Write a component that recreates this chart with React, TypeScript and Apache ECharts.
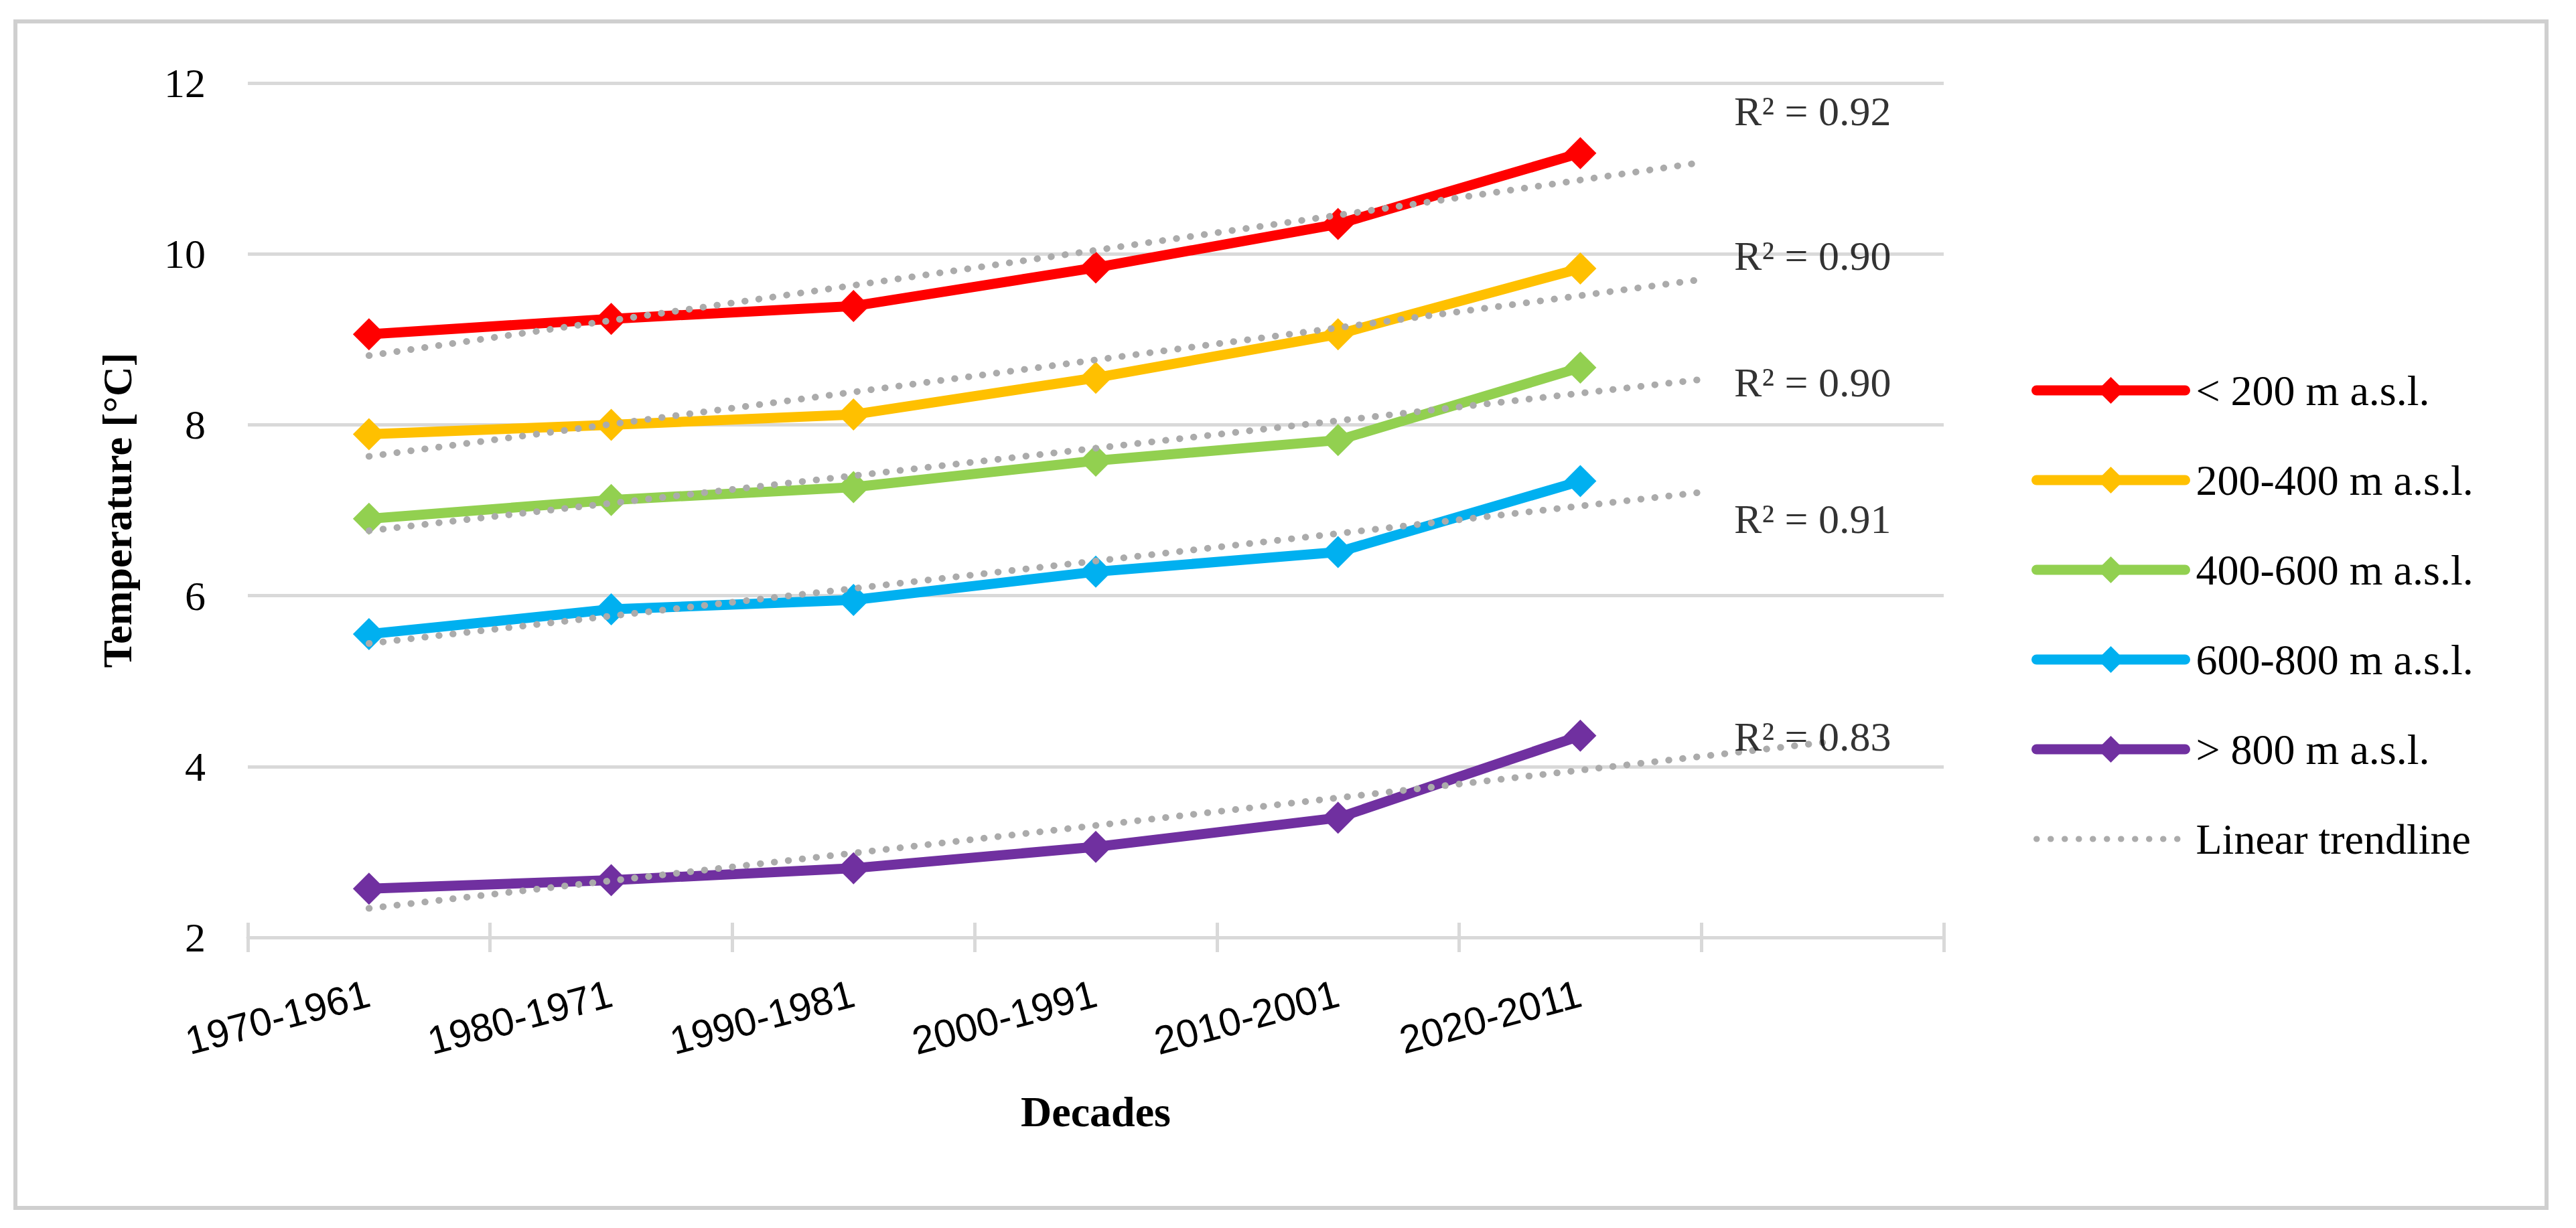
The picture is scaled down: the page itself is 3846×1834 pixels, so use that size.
import React, { useEffect, useRef } from "react";
import * as echarts from "echarts";

// ---------- data ----------
const categories = ["1970-1961", "1980-1971", "1990-1981", "2000-1991", "2010-2001", "2020-2011", ""];
const seriesNames = ["< 200 m a.s.l.", "200-400 m a.s.l.", "400-600 m a.s.l.", "600-800 m a.s.l.", "> 800 m a.s.l."];
const below200 = [9.06, 9.24, 9.39, 9.84, 10.35, 11.18];
const from200to400 = [7.89, 8.0, 8.12, 8.55, 9.06, 9.83];
const from400to600 = [6.9, 7.12, 7.27, 7.58, 7.82, 8.67];
const from600to800 = [5.55, 5.84, 5.95, 6.28, 6.51, 7.34];
const above800 = [2.57, 2.67, 2.81, 3.06, 3.4, 4.36];
const seriesValues = [below200, from200to400, from400to600, from600to800, above800];

// linear trendlines (start at first decade, end position / value)
const trendName = "Linear trendline";
const trendStartX = [1, 1, 1, 1, 1];
const trendStartValues = [8.81, 7.63, 6.76, 5.44, 2.34];
const trendEndX = [6.5, 6.5, 6.5, 6.5, 7];
const trendEndValues = [11.07, 9.7, 8.53, 7.21, 4.28];
const r2Texts = ["R\u00B2 = 0.92", "R\u00B2 = 0.90", "R\u00B2 = 0.90", "R\u00B2 = 0.91", "R\u00B2 = 0.83"];

const yTicks = { min: 2, max: 12, interval: 2 };

// ---------- layout / style (not data) ----------
const colors = ["#FF0000", "#FFC000", "#92D050", "#00B0F0", "#7030A0"];
const trendColor = "#ABABAB";
const gridColor = "#D9D9D9";
const r2LabelX = 6.635;
const r2LabelY = [11.67, 9.98, 8.5, 6.9, 4.35];
const SERIF = '"Liberation Serif", "Times New Roman", serif';
const SANS = '"Liberation Sans", Arial, sans-serif';

export default function App() {
  const ref = useRef<HTMLDivElement>(null);

  useEffect(() => {
    document.body.style.margin = "0";
    const chart = echarts.init(ref.current!, null, { renderer: "svg" });

    const trendLineStyle = { color: trendColor, width: 10, type: [0.5, 20.5], cap: "round" };

    const mainSeries = seriesNames.map((name, i) => ({
      name,
      type: "line",
      xAxisIndex: 0,
      yAxisIndex: 0,
      data: seriesValues[i],
      symbol: "diamond",
      symbolSize: 48,
      showSymbol: true,
      lineStyle: { color: colors[i], width: 15 },
      itemStyle: { color: colors[i] },
      z: 2,
    }));

    const trendSeries = seriesNames.map((_, i) => ({
      name: trendName,
      type: "line",
      xAxisIndex: 1,
      yAxisIndex: 0,
      data: [
        [trendStartX[i], trendStartValues[i]],
        [trendEndX[i], trendEndValues[i]],
      ],
      symbol: "none",
      lineStyle: trendLineStyle,
      itemStyle: { color: trendColor },
      z: 3,
    }));

    const r2Series = {
      name: "r2labels",
      type: "scatter",
      xAxisIndex: 1,
      yAxisIndex: 0,
      symbolSize: 0,
      data: r2Texts.map((t, i) => ({ name: t, value: [r2LabelX, r2LabelY[i]] })),
      label: {
        show: true,
        position: "right",
        distance: 0,
        formatter: (p: any) => p.name,
        fontFamily: SERIF,
        fontSize: 62,
        color: "#000",
      },
      silent: true,
      z: 4,
    };

    chart.setOption({
      animation: false,
      backgroundColor: "#ffffff",
      grid: { left: 370, right: 944, top: 124, bottom: 434, containLabel: false },
      legend: {
        orient: "vertical",
        left: 3033,
        top: 551,
        padding: 0,
        itemWidth: 222,
        itemHeight: 50,
        itemGap: 70,
        textStyle: { fontFamily: SERIF, fontSize: 64, color: "#000", lineHeight: 64, padding: [0, 0, 0, 11] },
        data: [
          ...seriesNames.map((n, i) => ({ name: n, lineStyle: { width: 15, color: colors[i], cap: "round" } })),
          {
            name: trendName,
            lineStyle: { width: 9, color: trendColor, type: [0.5, 20.5], cap: "round" },
            itemStyle: { color: "rgba(0,0,0,0)", borderColor: "rgba(0,0,0,0)", borderWidth: 0, opacity: 0 },
          },
        ],
      },
      xAxis: [
        {
          type: "category",
          data: categories,
          position: "bottom",
          boundaryGap: true,
          axisLine: { show: true, lineStyle: { color: gridColor, width: 5 } },
          axisTick: { show: true, inside: false, length: 22, interval: 0, lineStyle: { color: gridColor, width: 5 } },
          axisLabel: {
            show: true,
            interval: 0,
            rotate: 15,
            margin: 83,
            fontFamily: SANS,
            fontSize: 59,
            color: "#000",
          },
          splitLine: { show: false },
          name: "Decades",
          nameLocation: "middle",
          nameGap: 228,
          nameTextStyle: { fontFamily: SERIF, fontWeight: "bold", fontSize: 64, color: "#000" },
        },
        {
          type: "value",
          show: false,
          min: 0.5,
          max: 7.5,
          position: "bottom",
          splitLine: { show: false },
        },
        {
          type: "category",
          data: categories,
          position: "bottom",
          boundaryGap: true,
          axisLine: { show: false },
          axisTick: { show: true, inside: true, length: 22, interval: 0, lineStyle: { color: gridColor, width: 5 } },
          axisLabel: { show: false },
          splitLine: { show: false },
        },
      ],
      yAxis: {
        type: "value",
        min: yTicks.min,
        max: yTicks.max,
        interval: yTicks.interval,
        axisLine: { show: false },
        axisTick: { show: false },
        splitLine: { show: true, lineStyle: { color: gridColor, width: 5 } },
        axisLabel: { margin: 63, fontFamily: SERIF, fontSize: 62, color: "#000" },
        name: "Temperature [\u00B0C]",
        nameLocation: "middle",
        nameGap: 164,
        nameTextStyle: { fontFamily: SERIF, fontWeight: "bold", fontSize: 62, color: "#000" },
      },
      graphic: [
        {
          type: "rect",
          shape: { x: 23, y: 32, width: 3779, height: 1772 },
          style: { fill: "none", stroke: "#CFCFCF", lineWidth: 6 },
          silent: true,
          z: -10,
        },
      ],
      series: [...mainSeries, ...trendSeries, r2Series],
    });

    return () => chart.dispose();
  }, []);

  return (
    <div
      ref={ref}
      style={{ position: "fixed", left: 0, top: 0, width: 3846, height: 1834, background: "#fff" }}
    />
  );
}
